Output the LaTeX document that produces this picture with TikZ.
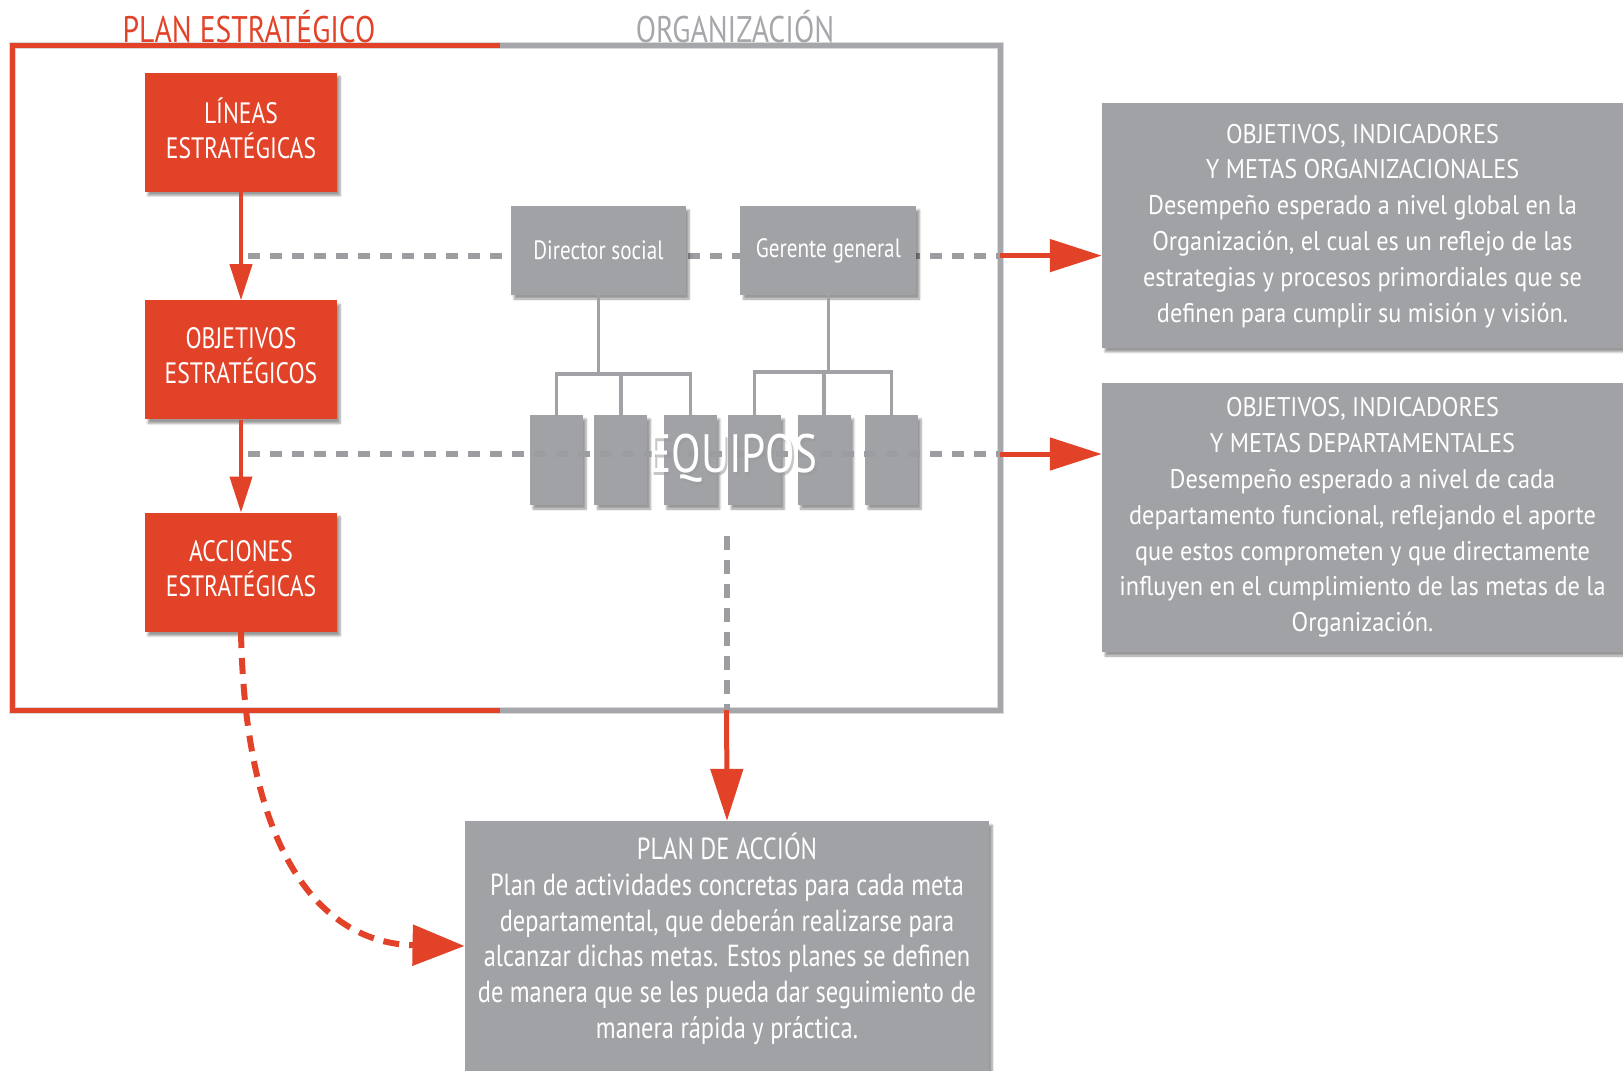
\documentclass[tikz,border=0pt]{standalone}
\usepackage{fontspec}
\setmainfont{PT Sans}
\newfontfamily\condfont[FakeStretch=0.8]{PT Sans}
\newfontfamily\bodyfont[FakeStretch=0.9]{PT Sans}
\usetikzlibrary{positioning,arrows.meta,shadows.blur}

\definecolor{planred}{RGB}{226,66,40}
\definecolor{orggray}{RGB}{161,162,166}
\definecolor{framegray}{RGB}{166,167,171}
\definecolor{dashgray}{RGB}{156,157,161}

\begin{document}
\begin{tikzpicture}[x=1pt, y=-1pt, every node/.style={inner sep=0pt},
    soft/.style={blur shadow={shadow xshift=3pt, shadow yshift=-4pt, shadow opacity=40, shadow blur steps=6}},
    redbox/.style={soft, fill=planred, text=white, minimum width=192pt, minimum height=119pt, align=center, text depth=8pt, font=\condfont\fontsize{29.5}{35}\selectfont},
    orgbox/.style={soft, fill=orggray, text=white, minimum width=175pt, minimum height=89pt, font=\condfont\fontsize{26.5}{30}\selectfont},
    teambox/.style={soft, fill=orggray, minimum width=53pt, minimum height=90pt},
    infobox/.style={soft, fill=orggray, text=white, align=center, font=\bodyfont\fontsize{27}{35.8}\selectfont},
    title/.style={font=\condfont\fontsize{37}{42}\selectfont},
    tree/.style={draw=orggray, line width=3.5pt},
    orgdash/.style={dashgray, line width=6pt, dash pattern=on 12pt off 10pt},
    plandash/.style={planred, line width=6pt, dash pattern=on 16pt off 10pt, -{Triangle[length=52pt,width=40pt]}},
    downarrow/.style={planred, line width=4pt, -{Triangle[length=36pt,width=22pt]}},
    outarrow/.style={planred, line width=5pt, -{Triangle[length=52pt,width=32pt]}}]
  \useasboundingbox (0,0) rectangle (1623,1071);

  % frame: plan (red) and organization (gray)
  \coordinate (fnw) at (12,45.5);
  \coordinate (fse) at (1000,710);
  \coordinate (fmid) at (500,45.5);
  \draw[black, opacity=0.15, line width=7pt, shift={(3,5)}] (fnw) rectangle (fse);
  \draw[planred, line width=5pt] (fmid) -- (fnw) -- (fnw |- fse) -- (fmid |- fse);
  \draw[framegray, line width=5pt] (fmid) -- (fnw -| fse) -- (fse) -- (fmid |- fse);
  \node[title, text=planred] (plantitle) at (249,27) {PLAN ESTRATÉGICO};
  \node[title, text=framegray] (orgtitle) at (735,27) {ORGANIZACIÓN};

  % strategic plan column
  \node[redbox] (lin) at (241,132) {LÍNEAS\\ESTRATÉGICAS};
  \node[redbox, below=108.5pt of lin] (obj) {OBJETIVOS\\ESTRATÉGICOS};
  \node[redbox, below=93pt of obj] (acc) {ACCIONES\\ESTRATÉGICAS};
  \draw[downarrow] (lin) -- (obj);
  \draw[downarrow] (obj) -- (acc);

  % organizational level
  \coordinate (d1) at (248,255.6);
  \draw[orgdash] (d1) -- (d1 -| fse);
  \node[orgbox] (dir) at (598.5,250.5) {Director social};
  \node[orgbox, minimum width=176pt, right=54pt of dir] (ger) {Gerente general};

  % teams
  \node[teambox] (t1) at (556.5,460) {};
  \node[teambox, right=11pt of t1] (t2) {};
  \node[teambox, right=16pt of t2] (t3) {};
  \node[teambox, right=11pt of t3] (t4) {};
  \node[teambox, right=16pt of t4] (t5) {};
  \node[teambox, right=14pt of t5] (t6) {};
  \draw[tree] (dir.south) -- ++(0,79) coordinate (dirj);
  \draw[tree] (t1.north) |- (t3.north |- dirj) -- (t3.north);
  \draw[tree] (t2.north) -- (t2.north |- dirj);
  \draw[tree] (ger.south) -- ++(0,77) coordinate (gerj);
  \draw[tree] (t4.north) |- (t6.north |- gerj) -- (t6.north);
  \draw[tree] (t5.north) -- (t5.north |- gerj);
  \coordinate (d2) at (248,454);
  \draw[orgdash] (d2) -- (d2 -| fse);
  \node[font=\condfont\fontsize{54}{60}\selectfont, text=black!40, opacity=0.55] (eqshade) at (735,461) {EQUIPOS};
  \node[font=\condfont\fontsize{54}{60}\selectfont, text=white] (eq) at (733,458) {EQUIPOS};

  % goals and action plan
  \node[infobox, minimum width=521pt, minimum height=244.5pt] (goalorg) at (1362.5,225.7)
    {OBJETIVOS, INDICADORES\\Y METAS ORGANIZACIONALES\\Desempeño esperado a nivel global en la\\Organización, el cual es un reflejo de las\\estrategias y procesos primordiales que se\\definen para cumplir su misión y visión.};
  \node[infobox, minimum width=521pt, minimum height=269pt] (goaldep) at (1362.5,517.5)
    {OBJETIVOS, INDICADORES\\Y METAS DEPARTAMENTALES\\Desempeño esperado a nivel de cada\\departamento funcional, reflejando el aporte\\que estos comprometen y que directamente\\influyen en el cumplimiento de las metas de la\\Organización.};
  \node[infobox, minimum width=524.5pt, minimum height=250pt,
    label={[text=white, align=center, font=\condfont\fontsize{30.5}{35.7}\selectfont, yshift=7.3pt]center:{PLAN DE ACCIÓN\\Plan de actividades concretas para cada meta\\departamental, que deberán realizarse para\\alcanzar dichas metas. Estos planes se definen\\de manera que se les pueda dar seguimiento de\\manera rápida y práctica.}}] (plan) at (727,946) {};

  \draw[outarrow] (d1 -| fse) -- (goalorg.west |- d1);
  \draw[outarrow] (d2 -| fse) -- (goaldep.west |- d2);
  \coordinate (v1) at (726.6,536);
  \draw[orgdash, dash pattern=on 14pt off 10pt] (v1) -- (v1 |- fse);
  \draw[outarrow] (v1 |- fse) -- (plan.north);
  \draw[plandash] (acc.south) .. controls +(5,250) and +(-125,-2) .. (plan.west);
\end{tikzpicture}
\end{document}
